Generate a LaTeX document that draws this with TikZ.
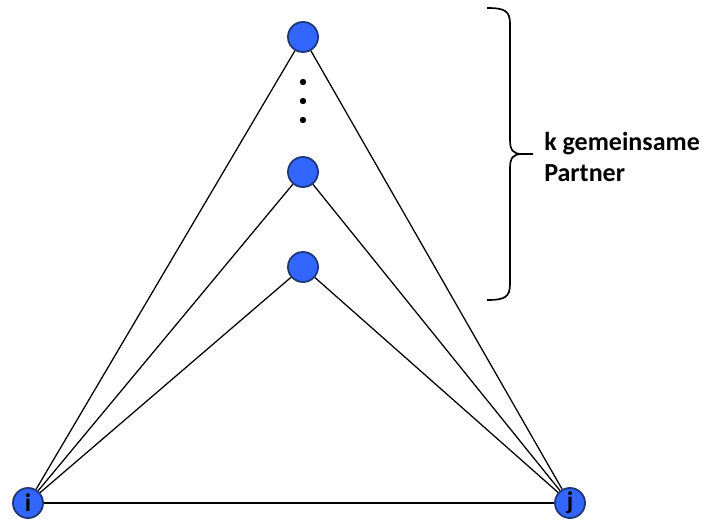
\documentclass[tikz,border=0pt]{standalone}
\usepackage{fontspec}
\setmainfont{Carlito}
\usetikzlibrary{positioning, calc}
\definecolor{nodeblue}{RGB}{51,102,255}
\definecolor{nodeedge}{RGB}{31,56,120}

\begin{document}
\begin{tikzpicture}[
        x=0.025cm, y=-0.025cm,
        nd/.style={circle, draw=nodeedge, line width=1.3pt, fill=nodeblue, minimum size=0.75cm, inner sep=0pt, font=\fontsize{18}{18}\selectfont\bfseries},
        ln/.style={line width=0.9pt}
    ]
        \useasboundingbox (0,0) rectangle (707,525);

        \node[nd] (i) at (28,503) {i};
        \node[nd] (j) at (570,503) {j};
        \node[nd] (p1) at (303,37) {};
        \node[nd] (p2) at (303,172) {};
        \node[nd] (p3) at (303,267) {};

        \foreach \y in {82,101,120}
            \fill (303,\y) circle (3.2);

        \draw[ln] (i) -- (j);
        \foreach \p in {p1,p2,p3} {
            \draw[ln] (i) -- (\p);
            \draw[ln] (j) -- (\p);
        }

        % Klammer
        \coordinate (bt) at (487,8);
        \coordinate (bb) at (487,300);
        \coordinate (tip) at (533,154);
        \draw[line width=1.2pt] (bt) .. controls (505,8) and (510,11) .. (510,24) -- (510,140)
            .. controls (510,150) and (513,154) .. (522,154) -- (tip);
        \draw[line width=1.2pt] (bb) .. controls (505,300) and (510,297) .. (510,284) -- (510,168)
            .. controls (510,158) and (513,154) .. (522,154);

        \node[anchor=west, align=left, font=\fontsize{18.5}{22}\selectfont\bfseries, inner sep=0pt] (lbl) at (544,157) {k gemeinsame\\Partner};
    \end{tikzpicture}
\end{document}
